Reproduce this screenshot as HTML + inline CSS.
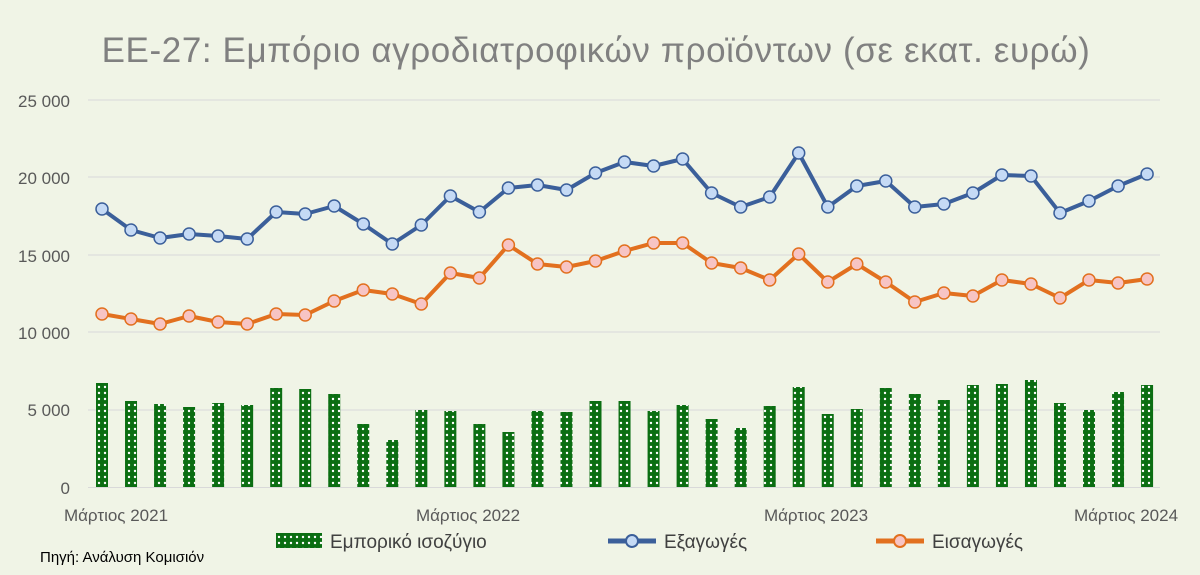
<!DOCTYPE html>
<html><head><meta charset="utf-8"><style>
html,body{margin:0;padding:0;background:#f0f4e6;}
svg{display:block;font-family:"Liberation Sans",sans-serif;}
</style></head><body>
<svg id="c" width="1200" height="575" xmlns="http://www.w3.org/2000/svg">
<defs>
<pattern id="dots" width="6" height="6" patternUnits="userSpaceOnUse">
<rect width="6" height="6" fill="#0b6e12"/><circle cx="3" cy="3" r="1.2" fill="#ffffff"/>
</pattern>
</defs>
<rect width="1200" height="575" fill="#f0f4e6"/>
<text x="596" y="62" text-anchor="middle" font-size="35" letter-spacing="0.6" fill="#808080">ΕΕ-27: Εμπόριο αγροδιατροφικών προϊόντων (σε εκατ. ευρώ)</text>
<g id="g"></g>
<g font-size="17" fill="#595959">
<text x="70" y="107" text-anchor="end">25 000</text>
<text x="70" y="184" text-anchor="end">20 000</text>
<text x="70" y="262" text-anchor="end">15 000</text>
<text x="70" y="339" text-anchor="end">10 000</text>
<text x="70" y="416" text-anchor="end">5 000</text>
<text x="70" y="494" text-anchor="end">0</text>
<text x="116" y="521" text-anchor="middle">Μάρτιος 2021</text>
<text x="468" y="521" text-anchor="middle">Μάρτιος 2022</text>
<text x="816" y="521" text-anchor="middle">Μάρτιος 2023</text>
<text x="1126" y="521" text-anchor="middle">Μάρτιος 2024</text>
</g>
<rect x="276" y="533" width="46" height="15" fill="url(#dots)"/>
<text x="330" y="548" font-size="19" fill="#404040">Εμπορικό ισοζύγιο</text>
<line x1="608" y1="541" x2="656" y2="541" stroke="#3b5f9a" stroke-width="5"/>
<circle cx="632" cy="541" r="6" fill="#c5daf5" stroke="#3b5f9a" stroke-width="2"/>
<text x="664" y="548" font-size="19" fill="#404040">Εξαγωγές</text>
<line x1="876" y1="541" x2="924" y2="541" stroke="#e2701f" stroke-width="5"/>
<circle cx="900" cy="541" r="6" fill="#f7c4c4" stroke="#e2701f" stroke-width="2"/>
<text x="932" y="548" font-size="19" fill="#404040">Εισαγωγές</text>
<text x="40" y="562" font-size="15" fill="#000">Πηγή: Ανάλυση Κομισιόν</text>
</svg>
<script>
var ex=[209,230,238,234,236,239,212,214,206,224,244,225,196,212,188,185,190,173,162,166,159,193,207,197,153,207,186,181,207,204,193,175,176,213,201,186,174];
var im=[314,319,324,316,322,324,314,315,301,290,294,304,273,278,245,264,267,261,251,243,243,263,268,280,254,282,264,282,302,293,296,280,284,298,280,283,279];
var br=[383,401,404,407,403,405,388,389,394,424,440,410,411,424,432,411,412,401,401,411,405,419,428,406,387,414,409,388,394,400,385,384,380,403,410,392,385];
var s='';
[100,177,255,332,410].forEach(function(y){s+='<line x1="88" y1="'+y+'" x2="1160" y2="'+y+'" stroke="#d9d9d9" stroke-width="1"/>';});
s+='<line x1="88" y1="487.5" x2="1160" y2="487.5" stroke="#d9d9d9"/>';
function X(i){return 102+i*29.03;}
br.forEach(function(y,i){s+='<rect x="'+(X(i)-6)+'" y="'+y+'" width="12" height="'+(487-y)+'" fill="url(#dots)"/>';});
function line(a,c,f){var p=a.map(function(y,i){return X(i).toFixed(1)+','+y;}).join(' ');
s+='<polyline points="'+p+'" fill="none" stroke="'+c+'" stroke-width="4" stroke-linejoin="round"/>';
a.forEach(function(y,i){s+='<circle cx="'+X(i).toFixed(1)+'" cy="'+y+'" r="6" fill="'+f+'" stroke="'+c+'" stroke-width="1.5"/>';});}
line(ex,'#3b5f9a','#c5daf5');line(im,'#e2701f','#f7c4c4');
document.getElementById('g').innerHTML=s;
</script>
</body></html>
